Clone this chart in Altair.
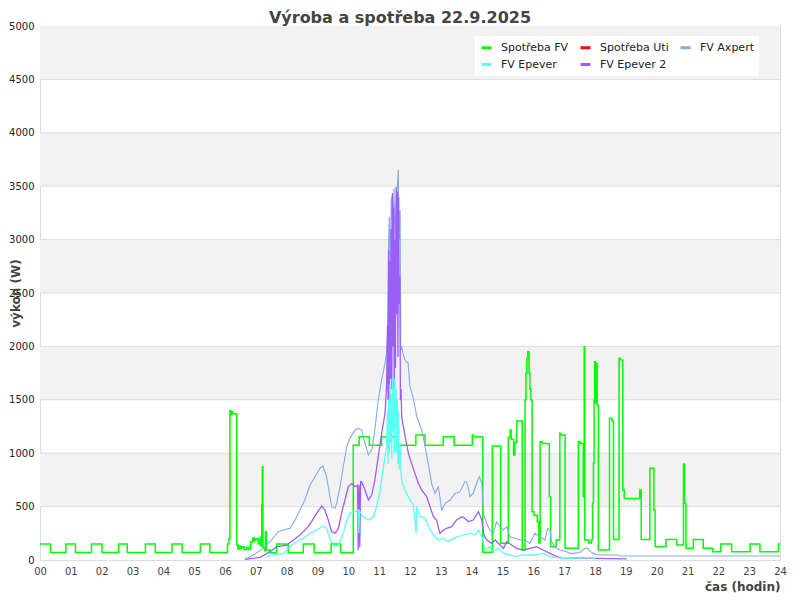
import altair as alt
import pandas as pd

SERIES = ["Spotřeba FV", "Spotřeba Uti", "FV Axpert", "FV Epever", "FV Epever 2"]
COLORS = ["#00ff00", "#ff0000", "#85a9e6", "#5cfff0", "#9b5ff7"]

Y_TICKS = list(range(0, 5001, 500))
X_TICKS = list(range(0, 25))

# (hour, W)
spotreba_fv = [
    (0.00, 150), (0.34, 70), (0.84, 150), (1.15, 70), (1.67, 150), (2.01, 70),
    (2.55, 150), (2.83, 70), (3.42, 150), (3.74, 70), (4.28, 150), (4.61, 70),
    (5.20, 150), (5.51, 70), (6.08, 150), (6.13, 200), (6.16, 1400), (6.19, 1360),
    (6.22, 1390), (6.25, 1370), (6.38, 140), (6.42, 100), (6.46, 130), (6.50, 110),
    (6.55, 125), (6.62, 95), (6.70, 120), (6.76, 100), (6.83, 170), (6.90, 205),
    (6.95, 180), (7.00, 200), (7.08, 150), (7.14, 210), (7.17, 130), (7.19, 515),
    (7.21, 874), (7.23, 120), (7.28, 90), (7.31, 265), (7.34, 94), (7.46, 68),
    (7.68, 150), (8.05, 68), (8.54, 150), (8.89, 68), (9.44, 150), (9.75, 68),
    (10.16, 1074), (10.35, 1155), (10.68, 1074), (11.08, 1155), (11.59, 1074),
    (12.19, 1170), (12.49, 1074), (13.08, 1155), (13.43, 1074), (14.02, 1170),
    (14.05, 1155), (14.36, 72), (14.67, 1067), (14.94, 156), (15.19, 1150),
    (15.25, 1217), (15.28, 1130), (15.36, 983), (15.40, 1100), (15.46, 1301),
    (15.64, 94), (15.73, 1498), (15.76, 1748), (15.79, 1888), (15.82, 1950),
    (15.86, 1748), (15.89, 1600), (15.92, 1498), (15.96, 452), (16.02, 420),
    (16.13, 359), (16.18, 159), (16.22, 1108), (16.29, 1090), (16.52, 593),
    (16.56, 125), (16.74, 187), (16.86, 1186), (16.89, 1170), (17.03, 110),
    (17.46, 1108), (17.52, 1090), (17.62, 593), (17.65, 1997), (17.67, 187),
    (17.80, 160), (17.88, 187), (17.92, 531), (17.95, 908), (17.97, 1498),
    (17.99, 1857), (18.01, 1470), (18.05, 1842), (18.07, 1451), (18.11, 94),
    (18.47, 1327), (18.55, 1300), (18.60, 193), (18.78, 1888), (18.82, 1872),
    (18.90, 655), (18.95, 577), (19.45, 655), (19.50, 193), (19.78, 858),
    (19.91, 468), (19.95, 125), (20.30, 193), (20.65, 140), (20.87, 899),
    (20.90, 531), (20.95, 109), (21.19, 193), (21.51, 109), (21.82, 78),
    (22.08, 150), (22.43, 78), (23.03, 150), (23.35, 78), (23.95, 150), (24.00, 150),
]

fv_axpert = [
    (6.65, 6), (6.92, 47), (7.24, 109), (7.46, 171), (7.73, 265), (7.89, 281),
    (8.11, 296), (8.27, 374), (8.43, 468), (8.59, 562), (8.76, 702), (8.92, 780),
    (9.08, 858), (9.17, 880), (9.28, 796), (9.35, 686), (9.46, 499), (9.57, 484),
    (9.62, 531), (9.73, 686), (9.89, 967), (9.95, 1061), (10.05, 1139), (10.22, 1217),
    (10.32, 1233), (10.43, 1217), (10.54, 1092), (10.65, 983), (10.76, 1030),
    (10.86, 1217), (10.97, 1498), (11.08, 1685), (11.19, 1842), (11.24, 1935),
    (11.27, 2100), (11.30, 2900), (11.33, 3214), (11.36, 2600), (11.39, 3350),
    (11.41, 3401), (11.44, 2800), (11.48, 3479), (11.51, 3000), (11.55, 3300),
    (11.59, 3500), (11.62, 3651), (11.65, 3000), (11.68, 3277), (11.70, 1966),
    (11.73, 2000), (11.77, 1935), (11.84, 1870), (11.94, 1842), (12.00, 1623),
    (12.11, 1514), (12.22, 1342), (12.38, 1217), (12.49, 1061), (12.59, 905),
    (12.70, 718), (12.81, 624), (12.92, 686), (13.03, 468), (13.14, 531),
    (13.30, 562), (13.46, 624), (13.62, 640), (13.78, 733), (13.84, 733),
    (13.95, 593), (14.05, 624), (14.16, 718), (14.25, 780), (14.33, 718),
    (14.38, 437), (14.49, 343), (14.59, 281), (14.70, 250), (14.81, 359),
    (14.92, 312), (15.03, 281), (15.14, 312), (15.24, 218), (15.41, 203),
    (15.57, 187), (15.73, 187), (15.89, 156), (16.05, 250), (16.22, 218),
    (16.38, 187), (16.46, 296), (16.54, 281), (16.59, 171), (16.70, 125),
    (16.86, 94), (17.08, 78), (17.19, 62), (17.30, 62), (17.51, 70), (17.68, 109),
    (17.77, 109), (17.84, 80), (17.95, 62), (18.10, 47), (18.76, 47), (18.80, 37),
    (24.00, 37),
]

fv_epever = [
    (7.35, 31), (7.57, 47), (7.89, 62), (8.11, 125), (8.32, 171), (8.54, 203),
    (8.76, 250), (8.97, 281), (9.19, 318), (9.30, 296), (9.41, 187), (9.57, 125),
    (9.68, 140), (9.84, 250), (9.95, 374), (10.05, 437), (10.22, 452), (10.32, 468),
    (10.34, 250), (10.36, 460), (10.49, 405), (10.65, 374), (10.81, 405),
    (10.92, 499), (11.03, 655), (11.14, 874), (11.24, 1061), (11.27, 1400),
    (11.29, 900), (11.31, 1500), (11.33, 1000), (11.35, 1650), (11.37, 1100),
    (11.39, 1550), (11.41, 950), (11.43, 1700), (11.45, 1200), (11.47, 1600),
    (11.49, 1000), (11.51, 1704), (11.53, 1250), (11.55, 1600), (11.57, 1000),
    (11.59, 1500), (11.61, 900), (11.63, 1400), (11.65, 850), (11.68, 1100),
    (11.71, 800), (11.75, 718), (11.89, 624), (12.00, 562), (12.11, 515),
    (12.20, 250), (12.22, 500), (12.32, 405), (12.49, 390), (12.65, 281),
    (12.81, 218), (12.92, 187), (13.08, 203), (13.24, 171), (13.41, 203),
    (13.57, 218), (13.73, 234), (13.89, 250), (13.95, 250), (14.11, 234),
    (14.22, 281), (14.33, 218), (14.43, 94), (14.59, 125), (14.70, 78),
    (14.86, 109), (15.03, 62), (15.24, 47), (15.46, 31), (15.68, 47), (16.00, 47),
    (16.32, 62), (16.54, 31), (17.00, 16), (17.50, 20), (17.80, 25), (18.00, 10),
]

fv_epever2 = [
    (6.65, 6), (7.14, 25), (7.46, 78), (7.68, 125), (8.00, 140), (8.22, 187),
    (8.43, 234), (8.65, 296), (8.81, 359), (8.97, 437), (9.14, 505), (9.24, 468),
    (9.35, 374), (9.46, 265), (9.57, 250), (9.68, 296), (9.78, 437), (9.89, 562),
    (10.00, 686), (10.11, 718), (10.22, 686), (10.30, 700), (10.32, 94),
    (10.35, 700), (10.37, 120), (10.40, 733), (10.43, 733), (10.54, 655),
    (10.65, 562), (10.76, 608), (10.86, 749), (10.97, 967), (11.08, 1186),
    (11.19, 1373), (11.24, 1623), (11.27, 2200), (11.29, 1500), (11.31, 2900),
    (11.33, 1400), (11.35, 2800), (11.37, 1700), (11.39, 3100), (11.41, 1600),
    (11.43, 3436), (11.45, 2000), (11.47, 3300), (11.49, 1300), (11.51, 3000),
    (11.53, 1800), (11.55, 3492), (11.57, 2300), (11.59, 3450), (11.61, 1900),
    (11.63, 3400), (11.65, 2400), (11.67, 2653), (11.69, 1500), (11.71, 1600),
    (11.73, 1342), (11.84, 1155), (11.95, 999), (12.05, 905), (12.16, 811),
    (12.27, 718), (12.38, 655), (12.54, 593), (12.65, 499), (12.76, 405),
    (12.86, 374), (12.97, 250), (13.08, 281), (13.19, 296), (13.35, 312),
    (13.51, 374), (13.68, 405), (13.78, 390), (13.89, 359), (14.05, 374),
    (14.22, 452), (14.33, 374), (14.40, 234), (14.49, 187), (14.65, 156),
    (14.76, 187), (14.92, 140), (15.03, 109), (15.14, 171), (15.30, 140),
    (15.46, 109), (15.68, 94), (15.89, 109), (16.11, 125), (16.32, 94),
    (16.54, 62), (16.76, 31), (16.97, 16), (17.50, 20), (18.00, 15), (18.50, 12),
    (19.03, 10),
]


def frame(name, pts):
    return pd.DataFrame({"t": [p[0] for p in pts], "w": [p[1] for p in pts], "s": name})


FONT = "DejaVu Sans"
xscale = alt.Scale(domain=[0, 24], nice=False, zero=False)
yscale = alt.Scale(domain=[0, 5000], nice=False)
cscale = alt.Scale(domain=SERIES, range=COLORS)

yaxis = alt.Axis(
    title="výkon (W)", values=Y_TICKS, format="d", grid=False, ticks=False, labelPadding=6,
    labelFontSize=10, labelColor="#222", labelFont=FONT, domainColor="#dddddd",
    titleFont=FONT, titleFontSize=12, titleFontWeight="bold", titleColor="#444",
    titleX=-25, titleY=267, titleAngle=270, titleAlign="center", titleBaseline="middle",
)
xaxis = alt.Axis(
    title="čas (hodin)", values=X_TICKS,
    labelExpr="(datum.value < 10 ? '0' : '') + datum.value",
    grid=False, ticks=False, labelPadding=6, labelFontSize=10, labelColor="#444",
    labelFont=FONT, labelFlush=False, domainColor="#dddddd",
    titleFont=FONT, titleFontSize=12, titleFontWeight="bold", titleColor="#444",
    titleX=740, titleY=30, titleAlign="right", titleBaseline="alphabetic",
)
legend = alt.Legend(
    title=None, orient="none", legendX=435, legendY=10, columns=3,
    direction="horizontal",
    symbolType="stroke", symbolStrokeWidth=3, symbolSize=100,
    fillColor="white", padding=5, labelFont=FONT, labelFontSize=11,
    labelColor="#222", columnPadding=5, rowPadding=4, labelOffset=8,
)

bands_df = pd.DataFrame({"lo": Y_TICKS[1::2], "hi": Y_TICKS[2::2]})
bands = alt.Chart(bands_df).mark_rect(fill="#f2f2f2").encode(
    x=alt.value(0), x2=alt.value(740),
    y=alt.Y("lo:Q", scale=yscale, axis=yaxis), y2="hi:Q",
)
grid = alt.Chart(pd.DataFrame({"g": Y_TICKS[1:-1]})).mark_rule(
    color="#dddddd", strokeWidth=1
).encode(y=alt.Y("g:Q", scale=yscale, axis=yaxis))


def line_layer(df, **mark):
    return alt.Chart(df).mark_line(**mark).encode(
        x=alt.X("t:Q", scale=xscale, axis=xaxis),
        y=alt.Y("w:Q", scale=yscale, axis=yaxis),
        color=alt.Color("s:N", scale=cscale, legend=legend),
    )


green = line_layer(frame(SERIES[0], spotreba_fv), interpolate="step-after", strokeWidth=1.5)
blue = line_layer(frame(SERIES[2], fv_axpert), strokeWidth=1.1)
purple = line_layer(frame(SERIES[4], fv_epever2), strokeWidth=1.3)
cyan = line_layer(frame(SERIES[3], fv_epever), strokeWidth=1.3)

chart = alt.layer(bands, grid, green, blue, purple, cyan).properties(
    width=740, height=534,
    padding={"left": 32, "top": 18, "right": 12, "bottom": 36},
    autosize=alt.AutoSizeParams(type="none"),
    title=alt.TitleParams(
        "Výroba a spotřeba 22.9.2025", font=FONT, fontSize=16, fontWeight="bold",
        color="#444", anchor="middle", dx=-10, dy=4, offset=-1,
    ),
).configure_view(stroke="#dddddd").configure(background="white")

chart.save("out.html", embed_options={"renderer": "svg", "actions": False})
